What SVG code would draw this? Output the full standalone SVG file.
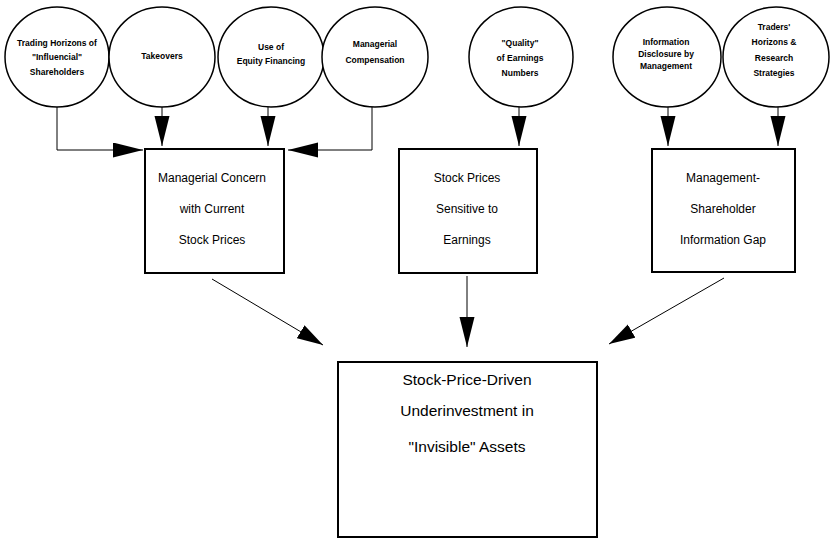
<svg xmlns="http://www.w3.org/2000/svg" width="832" height="542" viewBox="0 0 832 542">
<style>
.c{fill:#fff;stroke:#000;stroke-width:1.5}
.b{fill:#fff;stroke:#000;stroke-width:2}
.l{fill:none;stroke:#000;stroke-width:1}
.ct{font-family:"Liberation Sans",Arial,sans-serif;font-size:8.5px;font-weight:bold;text-anchor:middle;fill:#000}
.bt{font-family:"Liberation Sans",Arial,sans-serif;font-size:12px;text-anchor:middle;fill:#000}
.gt{font-family:"Liberation Sans",Arial,sans-serif;font-size:15.5px;text-anchor:middle;fill:#000}
</style>
<defs>
<marker id="ah" markerUnits="userSpaceOnUse" markerWidth="31" markerHeight="16" refX="30" refY="7.5" orient="auto">
<path d="M0,0 L30,7.5 L0,15 z" fill="#000"/>
</marker>
<marker id="ad" markerUnits="userSpaceOnUse" markerWidth="27" markerHeight="16" refX="26" refY="7.5" orient="auto">
<path d="M0,0 L26,7.5 L0,15 z" fill="#000"/>
</marker>
</defs>
<rect width="832" height="542" fill="#fff"/>
<g id="connectors">
<path class="l" d="M57,107 V150 H143" marker-end="url(#ah)"/>
<path class="l" d="M162,107 V146" marker-end="url(#ah)"/>
<path class="l" d="M268,107 V146" marker-end="url(#ah)"/>
<path class="l" d="M372,107 V150 H288" marker-end="url(#ah)"/>
<path class="l" d="M519,107 V146" marker-end="url(#ah)"/>
<path class="l" d="M668,107 V146" marker-end="url(#ah)"/>
<path class="l" d="M778,107 V146" marker-end="url(#ah)"/>
<path class="l" d="M212,279 L323,345" marker-end="url(#ad)"/>
<path class="l" d="M467,276 V347" marker-end="url(#ah)"/>
<path class="l" d="M724,278 L609,344" marker-end="url(#ad)"/>
</g>
<g id="n1"><ellipse class="c" cx="57" cy="57" rx="52" ry="50"/>
<text class="ct" x="57" y="46">Trading Horizons of</text>
<text class="ct" x="57" y="60">"Influencial"</text>
<text class="ct" x="57" y="75">Shareholders</text></g>
<g id="n2"><ellipse class="c" cx="162" cy="57" rx="53" ry="50"/>
<text class="ct" x="162" y="59">Takeovers</text></g>
<g id="n3"><ellipse class="c" cx="271" cy="57" rx="53" ry="50"/>
<text class="ct" x="271" y="50">Use of</text>
<text class="ct" x="271" y="64">Equity Financing</text></g>
<g id="n4"><ellipse class="c" cx="375" cy="57" rx="53" ry="50"/>
<text class="ct" x="375" y="47">Managerial</text>
<text class="ct" x="375" y="63">Compensation</text></g>
<g id="n5"><ellipse class="c" cx="521" cy="57" rx="52" ry="50"/>
<text class="ct" x="520" y="46">"Quality"</text>
<text class="ct" x="520" y="61">of Earnings</text>
<text class="ct" x="520" y="76">Numbers</text></g>
<g id="n6"><ellipse class="c" cx="667" cy="57" rx="54" ry="50"/>
<text class="ct" x="666" y="45">Information</text>
<text class="ct" x="666" y="57">Disclosure by</text>
<text class="ct" x="666" y="69">Management</text></g>
<g id="n7"><ellipse class="c" cx="776" cy="57" rx="53" ry="50"/>
<text class="ct" x="774" y="30">Traders'</text>
<text class="ct" x="774" y="45">Horizons &amp;</text>
<text class="ct" x="774" y="61">Research</text>
<text class="ct" x="774" y="76">Strategies</text></g>
<g id="b1"><rect class="b" x="145" y="149" width="139" height="124"/>
<text class="bt" x="212" y="182">Managerial Concern</text>
<text class="bt" x="212" y="213">with Current</text>
<text class="bt" x="212" y="244">Stock Prices</text></g>
<g id="b2"><rect class="b" x="399" y="149" width="138" height="124"/>
<text class="bt" x="467" y="182">Stock Prices</text>
<text class="bt" x="467" y="213">Sensitive to</text>
<text class="bt" x="467" y="244">Earnings</text></g>
<g id="b3"><rect class="b" x="652" y="149" width="143" height="123"/>
<text class="bt" x="723" y="182">Management-</text>
<text class="bt" x="723" y="213">Shareholder</text>
<text class="bt" x="723" y="244">Information Gap</text></g>
<g id="b4"><rect class="b" x="338" y="362" width="259" height="175"/>
<text class="gt" x="467" y="385">Stock-Price-Driven</text>
<text class="gt" x="467" y="416">Underinvestment in</text>
<text class="gt" x="467" y="452">"Invisible" Assets</text></g>
</svg>
